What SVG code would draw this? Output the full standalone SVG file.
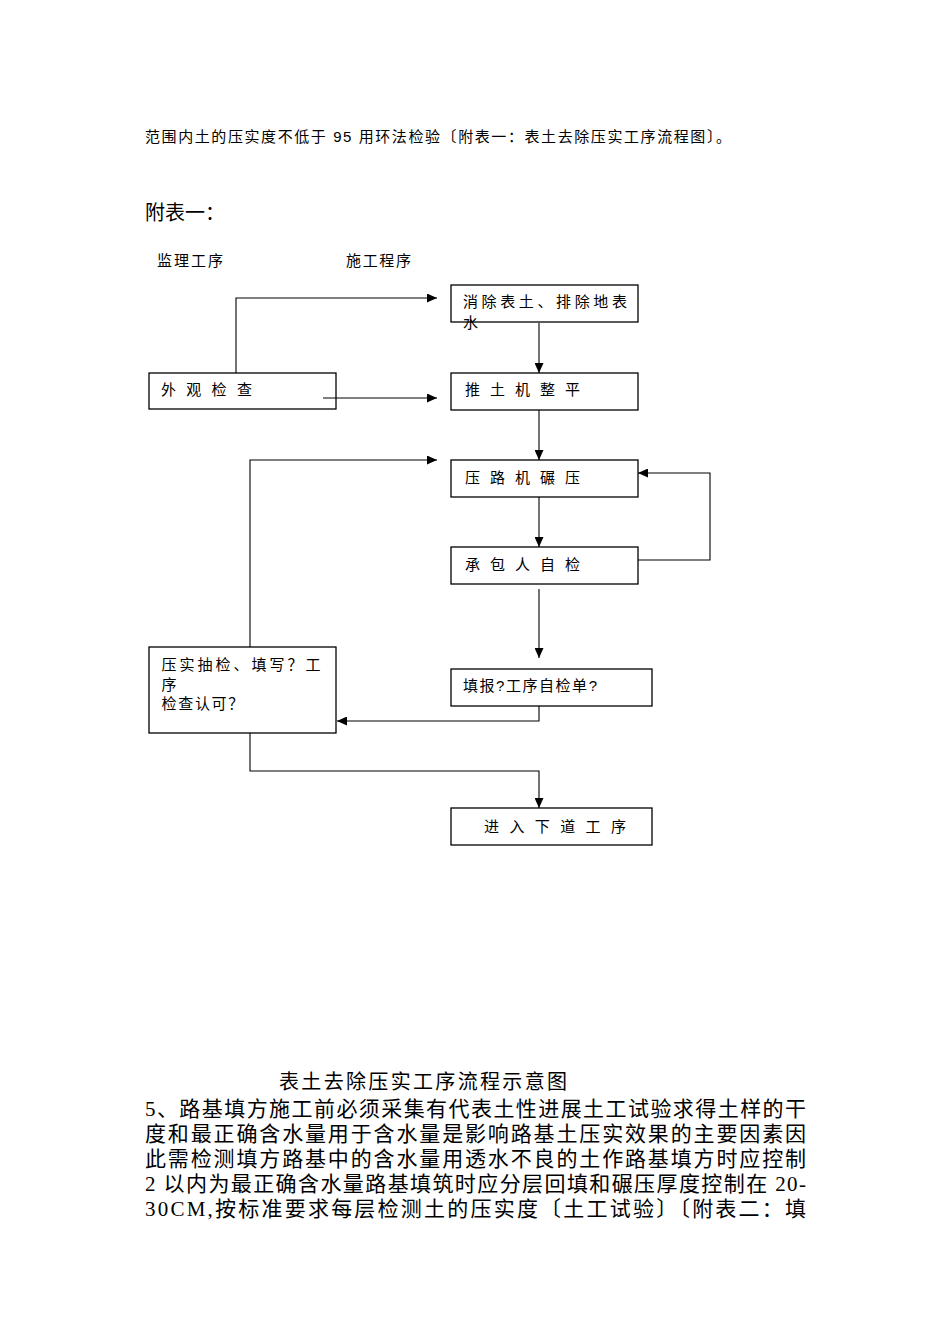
<svg xmlns="http://www.w3.org/2000/svg" width="950" height="1344" viewBox="0 0 950 1344">
<style>
.bg{fill:#fff}
.box{fill:#fff;stroke:#000;stroke-width:1.3}
.c{fill:none;stroke:#000;stroke-width:1.1}
.t{font-family:"Liberation Sans","Noto Sans CJK SC",sans-serif;font-size:15px;fill:#000}
.s{font-family:"Liberation Serif","Noto Sans CJK SC",serif;font-size:21px;fill:#000}
</style>
<defs>
<marker id="ah" markerUnits="userSpaceOnUse" markerWidth="10" markerHeight="9" refX="10" refY="4.5" orient="auto">
<path d="M0,0 L10,4.5 L0,9 z" fill="#000"/>
</marker>
</defs>
<rect class="bg" width="950" height="1344"/>
<text class="t" x="145" y="142" textLength="586" lengthAdjust="spacing">范围内土的压实度不低于 95 用环法检验〔附表一：表土去除压实工序流程图〕。</text>
<text class="t" x="145" y="220" style="font-size:20px">附表一：</text>
<text class="t" x="157" y="266" textLength="66" lengthAdjust="spacing">监理工序</text>
<text class="t" x="346" y="266" textLength="65" lengthAdjust="spacing">施工程序</text>

<g id="n-clear">
<rect class="box" x="451" y="285" width="187" height="37"/>
<text class="t" x="463" y="307" textLength="164" lengthAdjust="spacing">消除表土、排除地表</text>
<text class="t" x="463" y="328">水</text>
</g>
<g id="n-visual">
<rect class="box" x="149" y="373" width="187" height="36"/>
<text class="t" x="161 186.3 211.6 236.9" y="395">外观检查</text>
</g>
<g id="n-bulldoze">
<rect class="box" x="451" y="373" width="187" height="37"/>
<text class="t" x="465 490 515 540 565" y="395">推土机整平</text>
</g>
<g id="n-roll">
<rect class="box" x="451" y="460" width="187" height="37"/>
<text class="t" x="465 490 515 540 565" y="483">压路机碾压</text>
</g>
<g id="n-selfcheck">
<rect class="box" x="451" y="547" width="187" height="37"/>
<text class="t" x="465 490 515 540 565" y="570">承包人自检</text>
</g>
<g id="n-form">
<rect class="box" x="451" y="669" width="201" height="37"/>
<text class="t" x="463" y="691" textLength="134" lengthAdjust="spacing">填报?工序自检单?</text>
</g>
<g id="n-compact">
<rect class="box" x="149" y="647" width="187" height="86"/>
<text class="t" x="161.5 179.5 197.5 215.5 233.5 251.5 269.5 287.5 305.5" y="670">压实抽检、填写？工</text>
<text class="t" x="161.5" y="690">序</text>
<text class="t" x="161.5 178.2 194.9 211.6 228.3" y="709">检查认可？</text>
</g>
<g id="n-next">
<rect class="box" x="451" y="808" width="201" height="37"/>
<text class="t" x="484 509.4 534.8 560.2 585.6 611" y="832">进入下道工序</text>
</g>

<g id="connectors">
<path class="c" d="M236,373 V298 H437" marker-end="url(#ah)"/>
<path class="c" d="M323,398 H437" marker-end="url(#ah)"/>
<path class="c" d="M539,323 V373" marker-end="url(#ah)"/>
<path class="c" d="M539,410 V460" marker-end="url(#ah)"/>
<path class="c" d="M539,497 V547" marker-end="url(#ah)"/>
<path class="c" d="M638,560 H710 V473 H638" marker-end="url(#ah)"/>
<path class="c" d="M539,589 V658" marker-end="url(#ah)"/>
<path class="c" d="M539,706 V721 H337" marker-end="url(#ah)"/>
<path class="c" d="M250,647 V460 H437" marker-end="url(#ah)"/>
<path class="c" d="M250,733 V771 H539 V808" marker-end="url(#ah)"/>
</g>

<text class="s" x="279" y="1089" style="font-size:20px" textLength="288" lengthAdjust="spacing">表土去除压实工序流程示意图</text>
<text class="s" x="145" y="1116" textLength="661" lengthAdjust="spacing">5、路基填方施工前必须采集有代表土性进展土工试验求得土样的干</text>
<text class="s" x="145" y="1141" textLength="661" lengthAdjust="spacing">度和最正确含水量用于含水量是影响路基土压实效果的主要因素因</text>
<text class="s" x="145" y="1166" textLength="661" lengthAdjust="spacing">此需检测填方路基中的含水量用透水不良的土作路基填方时应控制</text>
<text class="s" x="145" y="1191" textLength="661" lengthAdjust="spacing">2 以内为最正确含水量路基填筑时应分层回填和碾压厚度控制在 20-</text>
<text class="s" x="145" y="1216" textLength="661" lengthAdjust="spacing">30CM,按标准要求每层检测土的压实度〔土工试验〕〔附表二：填</text>
</svg>
